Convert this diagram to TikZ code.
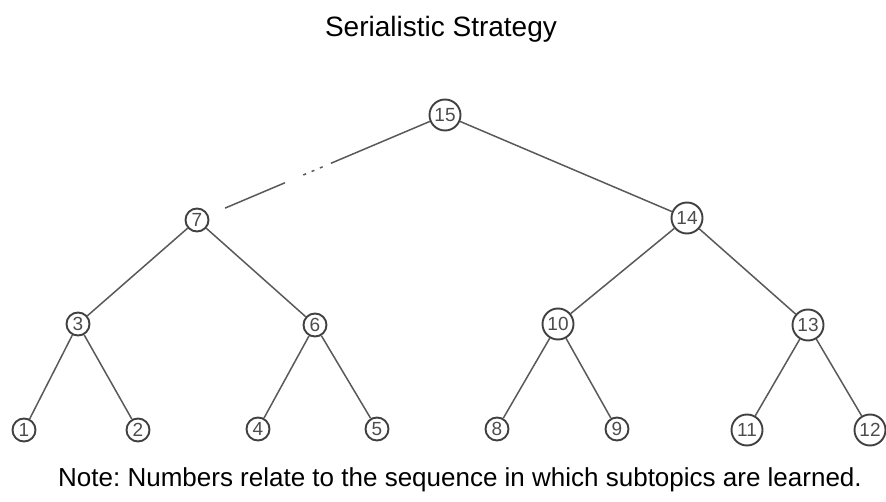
\documentclass[tikz,border=0pt]{standalone}
\usepackage{fontspec}
\setmainfont{Liberation Sans}
\usetikzlibrary{positioning}

\tikzset{
    topic/.style={circle, draw=black!75, line width=1.9pt, inner sep=0pt, minimum size=23pt, text=black!70, font=\fontsize{19}{19}\selectfont},
    bigtopic/.style={topic, minimum size=31pt},
    link/.style={draw=black!65, line width=1.5pt},
    faded/.style={link, dash pattern=on 0pt off 18pt on 65pt off 20pt on 3pt off 6pt on 3pt off 6pt on 3pt off 9pt on 200pt},
}

\begin{document}
\frenchspacing
\begin{tikzpicture}[x=1pt, y=1pt, on grid]
    \useasboundingbox (0,0) rectangle (886,-502);

    \node[anchor=base] (title) at (441,-37) {\fontsize{28}{28}\selectfont Serialistic Strategy};

    \node[bigtopic] (n15) at (445,-115) {15};

    \node[topic, below left=105pt and 248pt of n15] (n7) {7};
    \node[bigtopic, below right=103pt and 242pt of n15] (n14) {14};

    \node[topic, below left=104pt and 119pt of n7] (n3) {3};
    \node[topic, below right=105pt and 118pt of n7] (n6) {6};
    \node[bigtopic, below left=106pt and 129pt of n14] (n10) {10};
    \node[bigtopic, below right=107pt and 121pt of n14] (n13) {13};

    \node[topic, below left=106pt and 54pt of n3] (n1) {1};
    \node[topic, below right=106pt and 60pt of n3] (n2) {2};
    \node[topic, below left=104pt and 57pt of n6] (n4) {4};
    \node[topic, below right=104pt and 62pt of n6] (n5) {5};
    \node[topic, below left=105pt and 61pt of n10] (n8) {8};
    \node[topic, below right=105pt and 59pt of n10] (n9) {9};
    \node[bigtopic, below left=105pt and 61pt of n13] (n11) {11};
    \node[bigtopic, below right=105pt and 62pt of n13] (n12) {12};

    \node[anchor=base] (note) at (460,-486) {\fontsize{26}{26}\selectfont Note: Numbers relate to the sequence in which subtopics are learned.};

    % edges
    \draw[faded] (n7) -- (n15);
    \draw[link] (n15) -- (n14);
    \draw[link] (n7) -- (n3);
    \draw[link] (n7) -- (n6);
    \draw[link] (n14) -- (n10);
    \draw[link] (n14) -- (n13);
    \draw[link] (n3) -- (n1);
    \draw[link] (n3) -- (n2);
    \draw[link] (n6) -- (n4);
    \draw[link] (n6) -- (n5);
    \draw[link] (n10) -- (n8);
    \draw[link] (n10) -- (n9);
    \draw[link] (n13) -- (n11);
    \draw[link] (n13) -- (n12);
\end{tikzpicture}
\end{document}
